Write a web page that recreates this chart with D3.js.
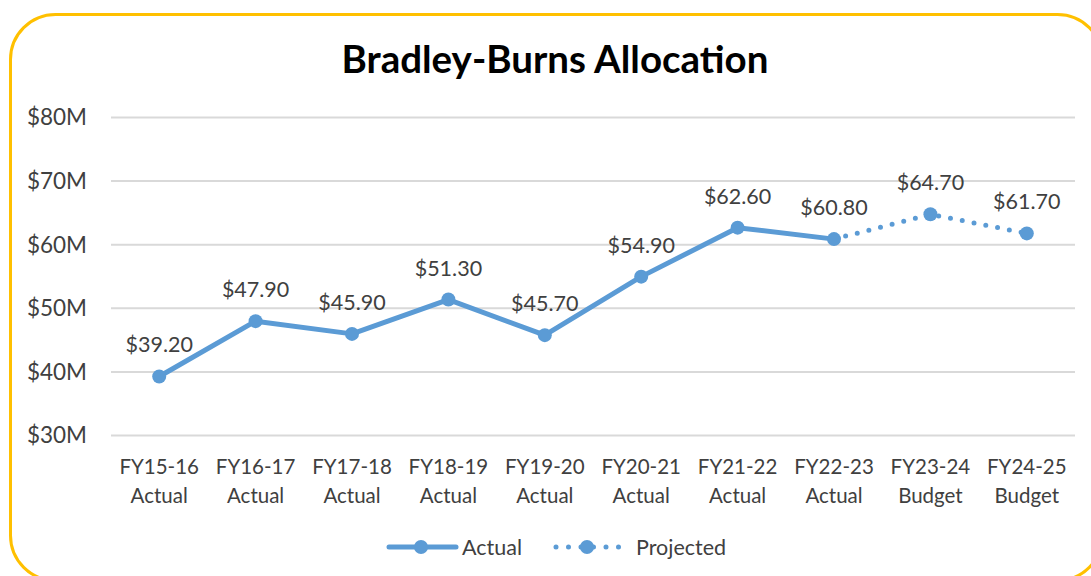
<!DOCTYPE html>
<html><head><meta charset="utf-8">
<script src="https://cdn.jsdelivr.net/npm/d3@7"></script>
<style>
html,body{margin:0;padding:0;background:#fff;}
svg{display:block;font-family:Lato, "Open Sans", sans-serif;}
</style></head>
<body>
<svg id="chart" width="1091" height="576"></svg>
<script>
const title = "Bradley-Burns Allocation";
const categories = ["FY15-16","FY16-17","FY17-18","FY18-19","FY19-20","FY20-21","FY21-22","FY22-23","FY23-24","FY24-25"];
const categoryTypes = ["Actual","Actual","Actual","Actual","Actual","Actual","Actual","Actual","Budget","Budget"];
const values = [39.2,47.9,45.9,51.3,45.7,54.9,62.6,60.8,64.7,61.7];
const actualCount = 8; // first 8 are actual; projection continues from last actual
const yTicks = [30,40,50,60,70,80];
const seriesNames = ["Actual","Projected"];

const svg = d3.select("#chart");
const color = "#5B9BD5";
const textColor = "#404040";

// border
svg.append("rect").attr("x",10.5).attr("y",14.5).attr("width",1092).attr("height",566)
  .attr("rx",45).attr("ry",45).attr("fill","#fff").attr("stroke","#FFC000").attr("stroke-width",3);

const left = 111, right = 1075;
const x = d3.scaleBand().domain(categories).range([left,right]);
const y = d3.scaleLinear().domain([30,80]).range([435,117]);
const cx = d => x(d) + x.bandwidth()/2;

svg.append("text").attr("x",555).attr("y",73).attr("text-anchor","middle")
  .attr("font-size",38.5).attr("font-weight","bold").attr("fill","#000").text(title);

// grid
const yAxis = d3.axisLeft(y).tickValues(yTicks).tickSize(-(right-left)).tickFormat(d=>"$"+d+"M");
const gy = svg.append("g").attr("transform",`translate(${left},0)`).call(yAxis);
gy.select(".domain").remove();
gy.selectAll(".tick line").attr("stroke","#D9D9D9").attr("stroke-width",2);
gy.selectAll(".tick text").attr("x",-24).attr("dy","0.35em").attr("font-size",22.5).attr("fill",textColor)
  .attr("font-family","Lato");

// x axis labels
const xAxis = d3.axisBottom(x).tickSize(0).tickFormat("");
const gx = svg.append("g").attr("transform","translate(0,435)").call(xAxis);
gx.select(".domain").remove();
gx.selectAll(".tick").each(function(d,i){
  const t = d3.select(this).append("text").attr("text-anchor","middle").attr("font-size",20.5)
    .attr("fill",textColor).attr("font-family","Lato");
  t.append("tspan").attr("x",0).attr("y",39).text(d);
  t.append("tspan").attr("x",0).attr("y",68).text(categoryTypes[i]);
});

const pts = categories.map((c,i)=>({c, v: values[i], i}));
const line = d3.line().x(d=>cx(d.c)).y(d=>y(d.v));
const actualPts = pts.slice(0,actualCount);
const projPts = pts.slice(actualCount-1);

svg.append("path").datum(projPts).attr("d",line).attr("fill","none").attr("stroke",color)
  .attr("stroke-width",5).attr("stroke-linecap","round").attr("stroke-dasharray","0 12");
svg.append("path").datum(actualPts).attr("d",line).attr("fill","none").attr("stroke",color)
  .attr("stroke-width",5).attr("stroke-linejoin","round");

svg.selectAll("circle.pt").data(pts).enter().append("circle").attr("class","pt")
  .attr("cx",d=>cx(d.c)).attr("cy",d=>y(d.v)).attr("r",7).attr("fill",color);

svg.selectAll("text.lbl").data(pts).enter().append("text").attr("class","lbl")
  .attr("x",d=>cx(d.c)).attr("y",d=>y(d.v)-24).attr("text-anchor","middle")
  .attr("font-size",21.5).attr("fill",textColor).text(d=>"$"+d.v.toFixed(2));

// legend
const ly = 547;
const lg = svg.append("g");
lg.append("line").attr("x1",389).attr("x2",456).attr("y1",ly).attr("y2",ly).attr("stroke",color).attr("stroke-width",5).attr("stroke-linecap","round");
lg.append("circle").attr("cx",421).attr("cy",ly).attr("r",7).attr("fill",color);
lg.append("text").attr("x",462).attr("y",ly).attr("dy","0.35em").attr("font-size",21.5).attr("fill",textColor).text(seriesNames[0]);
lg.append("line").attr("x1",556).attr("x2",622).attr("y1",ly).attr("y2",ly).attr("stroke",color).attr("stroke-width",5)
  .attr("stroke-linecap","round").attr("stroke-dasharray","0 12.5");
lg.append("circle").attr("cx",587).attr("cy",ly).attr("r",7).attr("fill",color);
lg.append("text").attr("x",636).attr("y",ly).attr("dy","0.35em").attr("font-size",21.5).attr("fill",textColor).text(seriesNames[1]);
</script>
</body></html>
